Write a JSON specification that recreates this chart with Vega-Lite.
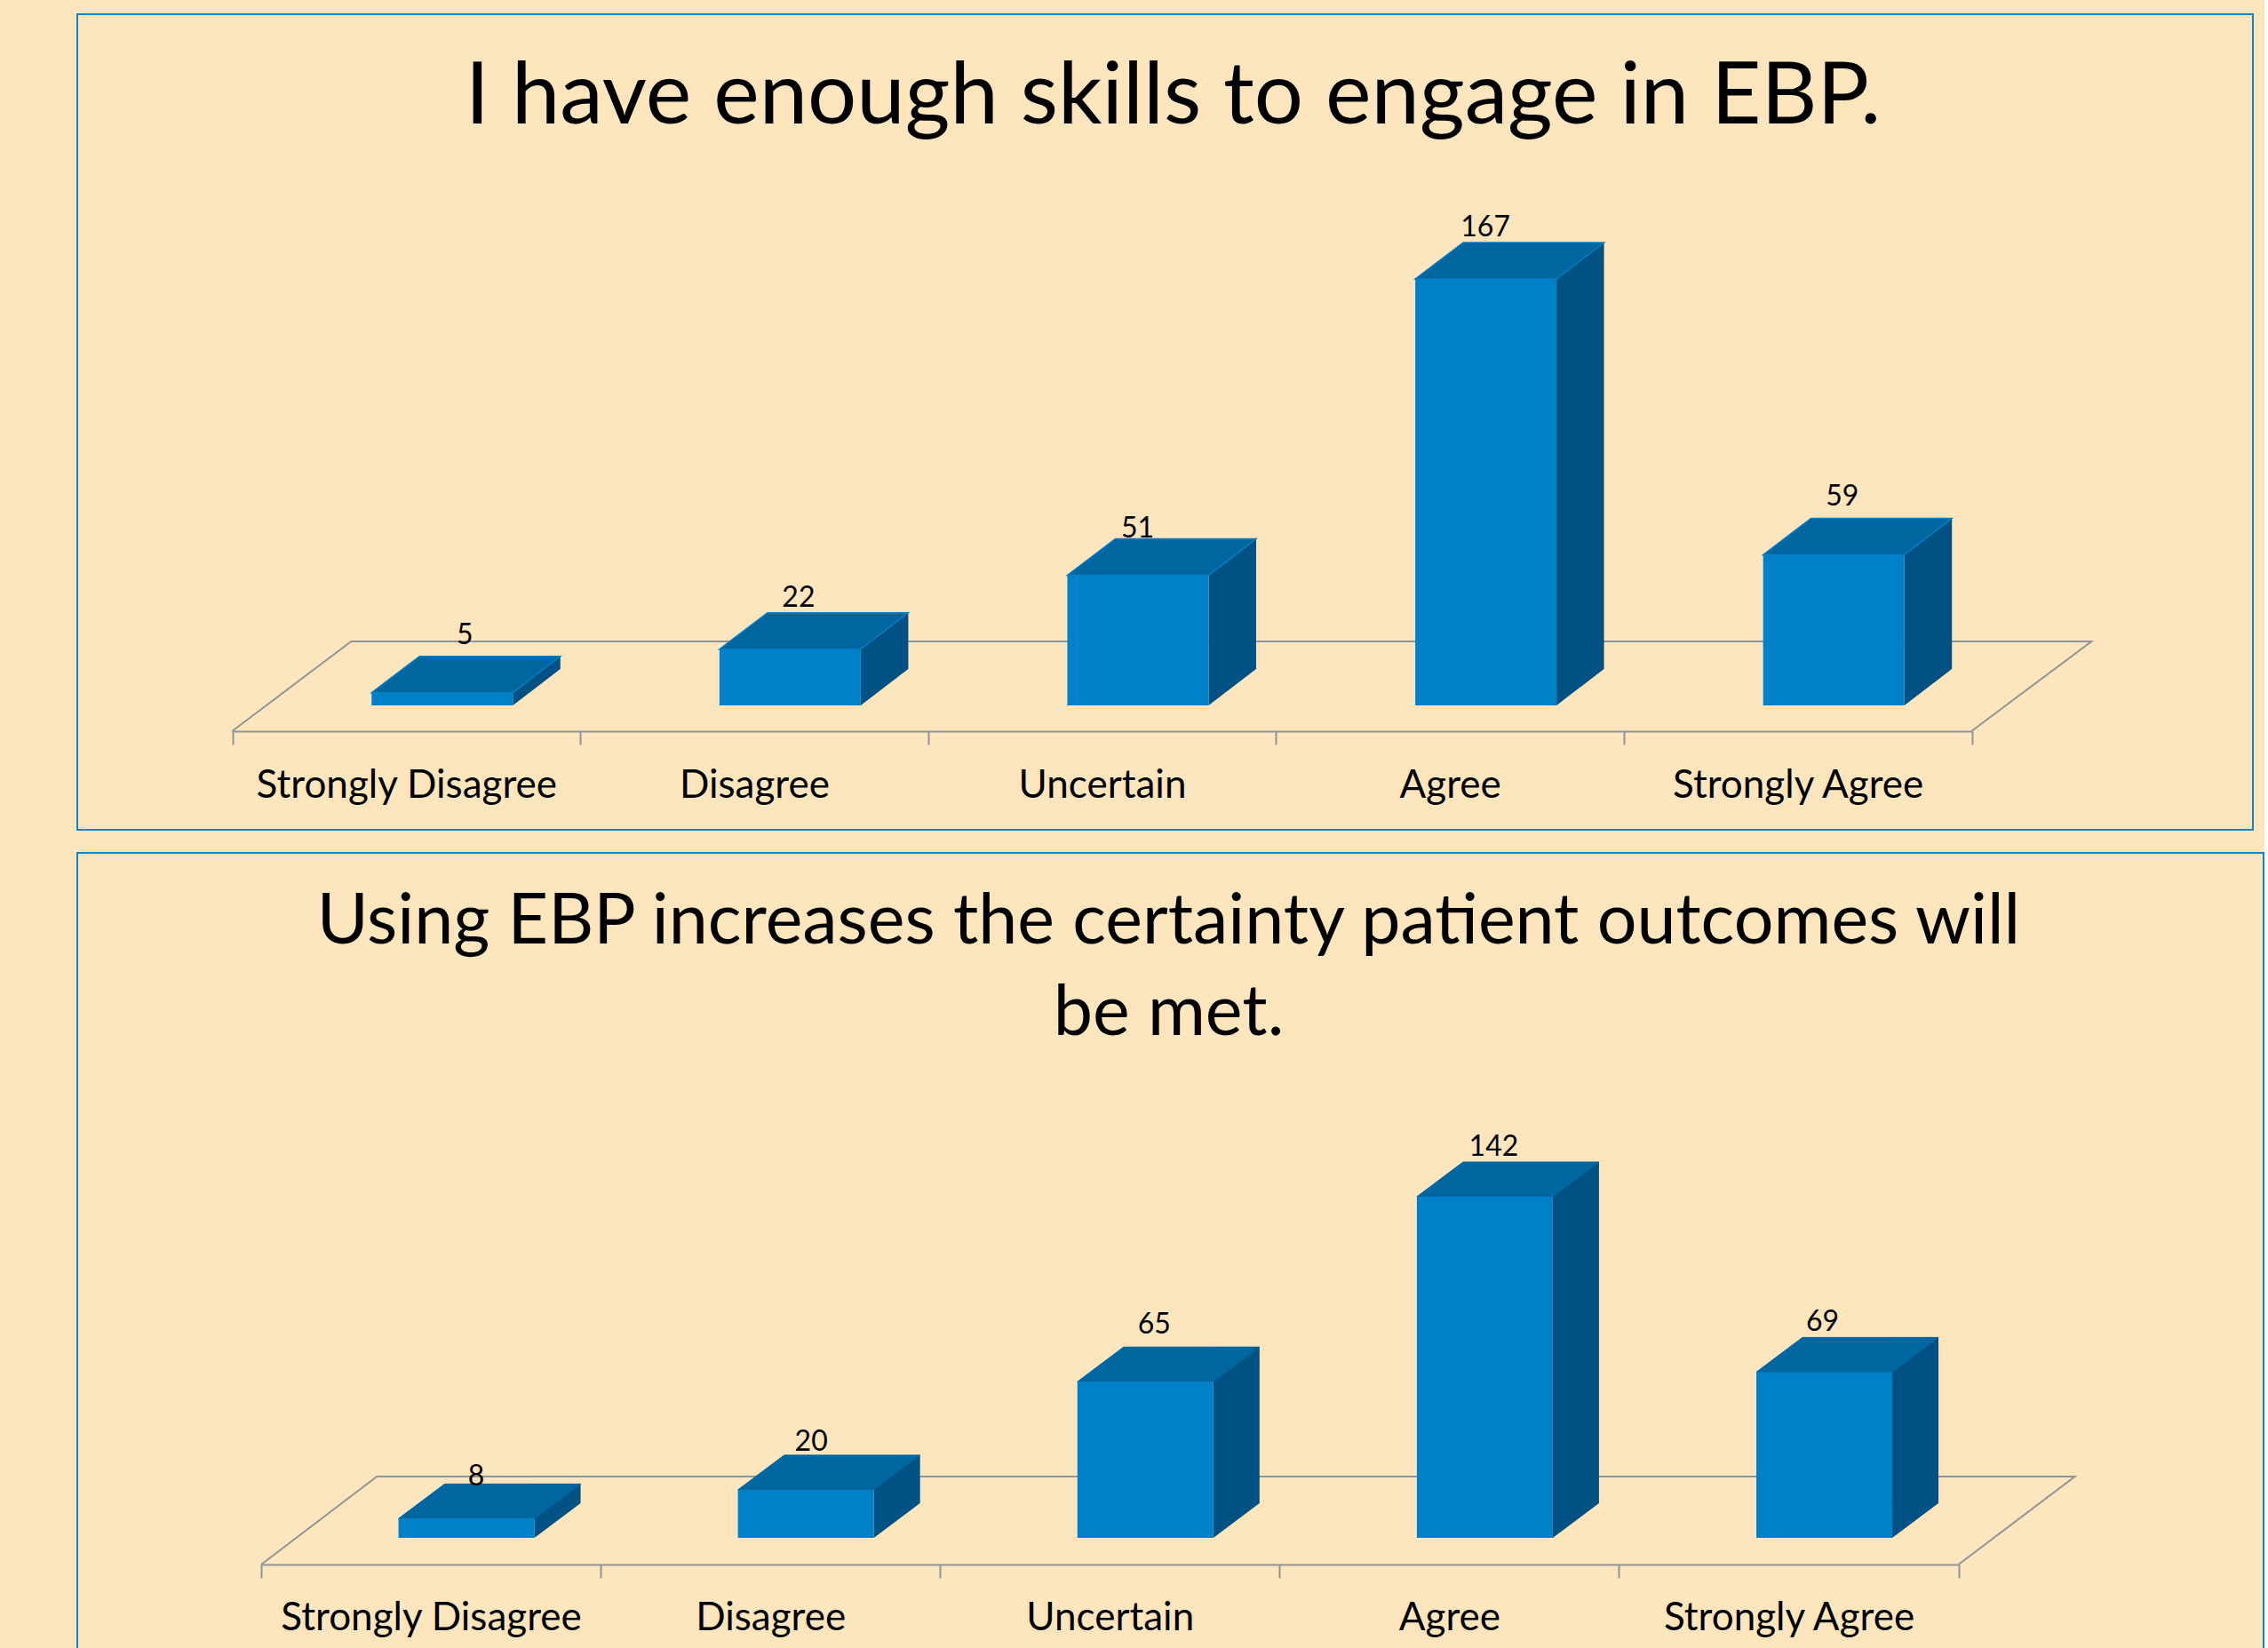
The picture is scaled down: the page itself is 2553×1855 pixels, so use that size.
{"$schema":"https://vega.github.io/schema/vega-lite/v6.json","background":"#FDE5BE","padding":{"left":86,"top":15,"right":0,"bottom":0},"spacing":24,"config":{"view":{"stroke":"#0A85CC","strokeWidth":2},"font":"Lato","text":{"font":"Lato"}},"datasets":{"skills":[{"category":"Strongly Disagree","count":5},{"category":"Disagree","count":22},{"category":"Uncertain","count":51},{"category":"Agree","count":167},{"category":"Strongly Agree","count":59}],"certainty":[{"category":"Strongly Disagree","count":8},{"category":"Disagree","count":20},{"category":"Uncertain","count":65},{"category":"Agree","count":142},{"category":"Strongly Agree","count":69}]},"vconcat":[{"width":2449,"height":918,"data":{"name":"skills"},"title":{"text":"I have enough skills to engage in EBP.","font":"Lato","fontSize":97.5,"fontWeight":"normal","color":"#000000","anchor":"middle","frame":"group","baseline":"alphabetic","offset":-220,"dx":9},"encoding":{"x":{"field":"category","type":"nominal","scale":{"domain":["Strongly Disagree","Disagree","Uncertain","Agree","Strongly Agree"],"range":[174.5,2132.5],"paddingInner":0,"paddingOuter":0},"axis":{"title":null,"orient":"bottom","offset":-111,"labelAngle":0,"labelFont":"Lato","labelFontSize":44,"labelColor":"#000000","labelPadding":24,"labelLimit":0,"domainColor":"#8F9499","domainWidth":2,"tickColor":"#8F9499","tickWidth":2,"tickSize":15,"tickBand":"extent","grid":false}},"y":{"field":"count","type":"quantitative","scale":{"domain":[0,167],"range":[778,298],"nice":false,"zero":true},"axis":null}},"layer":[{"transform":[{"filter":"datum.category==='Strongly Disagree'"}],"mark":{"type":"point","shape":"M-196,29 L-62,-72 L1897,-72 L1762,29","size":4,"filled":false,"fill":"transparent","stroke":"#8F9499","strokeWidth":2,"opacity":1},"encoding":{"y":{"datum":0}}},{"mark":{"type":"bar","width":53.5,"xOffset":146.75,"yOffset":-41,"y2Offset":-41,"color":"#005285"},"encoding":{"y2":{"datum":0}}},{"mark":{"type":"point","shape":"M79.5,-41 L133,-41 L79.5,0 Z","size":4,"filled":true,"color":"#005285","opacity":1,"xOffset":40.5},"encoding":{"y":{"datum":0}}},{"mark":{"type":"point","shape":"M-79.5,0 L79.5,0 L133,-41 L-25.5,-41 Z","size":4,"filled":true,"fill":"#00669F","stroke":"#0A7CC0","strokeWidth":1.5,"opacity":1,"xOffset":40.5}},{"mark":{"type":"bar","width":159,"xOffset":40.5,"color":"#0080C8"},"encoding":{"y2":{"datum":0}}},{"transform":[{"filter":"datum.count===5"}],"mark":{"type":"text","fontSize":32,"color":"#000000","baseline":"middle","xOffset":66,"yOffset":-65},"encoding":{"text":{"field":"count","type":"quantitative"}}},{"transform":[{"filter":"datum.count===22"}],"mark":{"type":"text","fontSize":32,"color":"#000000","baseline":"middle","xOffset":50,"yOffset":-58},"encoding":{"text":{"field":"count","type":"quantitative"}}},{"transform":[{"filter":"datum.count===51"}],"mark":{"type":"text","fontSize":32,"color":"#000000","baseline":"middle","xOffset":40,"yOffset":-52},"encoding":{"text":{"field":"count","type":"quantitative"}}},{"transform":[{"filter":"datum.count===167"}],"mark":{"type":"text","fontSize":32,"color":"#000000","baseline":"middle","xOffset":40,"yOffset":-58},"encoding":{"text":{"field":"count","type":"quantitative"}}},{"transform":[{"filter":"datum.count===59"}],"mark":{"type":"text","fontSize":32,"color":"#000000","baseline":"middle","xOffset":50,"yOffset":-65},"encoding":{"text":{"field":"count","type":"quantitative"}}}]},{"width":2461,"height":896,"data":{"name":"certainty"},"title":{"text":["Using EBP increases the certainty patient outcomes will","be met."],"font":"Lato","fontSize":79,"lineHeight":103,"fontWeight":"normal","color":"#000000","anchor":"middle","frame":"group","baseline":"alphabetic","offset":-284,"dx":-2},"encoding":{"x":{"field":"category","type":"nominal","scale":{"domain":["Strongly Disagree","Disagree","Uncertain","Agree","Strongly Agree"],"range":[207,2117.6],"paddingInner":0,"paddingOuter":0},"axis":{"title":null,"orient":"bottom","offset":-95,"labelAngle":0,"labelFont":"Lato","labelFontSize":44,"labelColor":"#000000","labelPadding":23,"labelLimit":0,"domainColor":"#8F9499","domainWidth":2,"tickColor":"#8F9499","tickWidth":2,"tickSize":15,"tickBand":"extent","grid":false}},"y":{"field":"count","type":"quantitative","scale":{"domain":[0,142],"range":[771,387],"nice":false,"zero":true},"axis":null}},"layer":[{"transform":[{"filter":"datum.category==='Strongly Disagree'"}],"mark":{"type":"point","shape":"M-191,30 L-60.8,-69 L1850.6,-69 L1719.6,30","size":4,"filled":false,"fill":"transparent","stroke":"#8F9499","strokeWidth":2,"opacity":1},"encoding":{"y":{"datum":0}}},{"mark":{"type":"bar","width":52,"xOffset":142.5,"yOffset":-39,"y2Offset":-39,"color":"#005285"},"encoding":{"y2":{"datum":0}}},{"mark":{"type":"point","shape":"M76.5,-39 L128.5,-39 L76.5,0 Z","size":4,"filled":true,"color":"#005285","opacity":1,"xOffset":40},"encoding":{"y":{"datum":0}}},{"mark":{"type":"point","shape":"M-76.5,0 L76.5,0 L128.5,-39 L-24.5,-39 Z","size":4,"filled":true,"fill":"#00669F","stroke":"#00669F","strokeWidth":1,"opacity":1,"xOffset":40}},{"mark":{"type":"bar","width":153,"xOffset":40,"color":"#0080C8"},"encoding":{"y2":{"datum":0}}},{"transform":[{"filter":"datum.count===8"}],"mark":{"type":"text","fontSize":32,"color":"#000000","baseline":"middle","xOffset":51,"yOffset":-47},"encoding":{"text":{"field":"count","type":"quantitative"}}},{"transform":[{"filter":"datum.count===20"}],"mark":{"type":"text","fontSize":32,"color":"#000000","baseline":"middle","xOffset":46,"yOffset":-54},"encoding":{"text":{"field":"count","type":"quantitative"}}},{"transform":[{"filter":"datum.count===65"}],"mark":{"type":"text","fontSize":32,"color":"#000000","baseline":"middle","xOffset":50,"yOffset":-64},"encoding":{"text":{"field":"count","type":"quantitative"}}},{"transform":[{"filter":"datum.count===142"}],"mark":{"type":"text","fontSize":32,"color":"#000000","baseline":"middle","xOffset":50,"yOffset":-56},"encoding":{"text":{"field":"count","type":"quantitative"}}},{"transform":[{"filter":"datum.count===69"}],"mark":{"type":"text","fontSize":32,"color":"#000000","baseline":"middle","xOffset":38,"yOffset":-56},"encoding":{"text":{"field":"count","type":"quantitative"}}}]}]}
